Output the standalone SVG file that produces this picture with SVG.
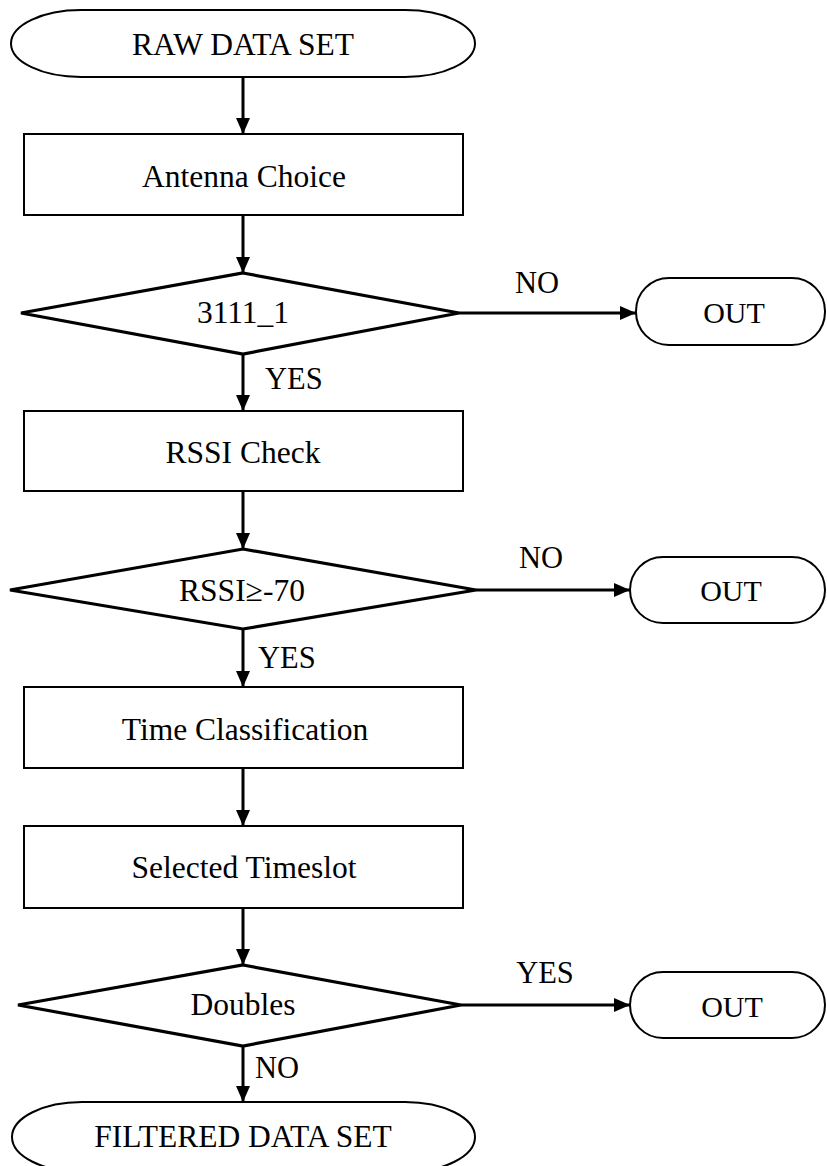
<svg xmlns="http://www.w3.org/2000/svg" width="827" height="1166" viewBox="0 0 827 1166">
  <defs>
    <marker id="arrow" markerUnits="userSpaceOnUse" markerWidth="16" markerHeight="16" viewBox="0 0 16 16" refX="16" refY="8" orient="auto">
      <path d="M0,1 L16,8 L0,15 Z" fill="#000"/>
    </marker>
    <style>
      .box { fill: #fff; stroke: #000; stroke-width: 2; }
      .dia { fill: #fff; stroke: #000; stroke-width: 3.2; stroke-linejoin: miter; }
      .t { font-family: "Liberation Serif", "Times New Roman", serif; font-size: 31.5px; fill: #000; text-anchor: middle; }
      .o { font-family: "Liberation Serif", "Times New Roman", serif; font-size: 30px; fill: #000; text-anchor: middle; }
      .lbl { font-family: "Liberation Serif", "Times New Roman", serif; font-size: 30.5px; fill: #000; }
      .edge { stroke: #000; stroke-width: 3; fill: none; marker-end: url(#arrow); }
    </style>
  </defs>
  <rect width="827" height="1166" fill="#fff"/>

  <g id="connectors">
    <line class="edge" x1="243" y1="77" x2="243" y2="134"/>
    <line class="edge" x1="243" y1="215" x2="243" y2="273"/>
    <line class="edge" x1="459" y1="313" x2="636" y2="313"/>
    <line class="edge" x1="243" y1="354" x2="243" y2="411"/>
    <line class="edge" x1="243" y1="491" x2="243" y2="549"/>
    <line class="edge" x1="476" y1="590" x2="630" y2="590"/>
    <line class="edge" x1="243" y1="629" x2="243" y2="687"/>
    <line class="edge" x1="243" y1="768" x2="243" y2="826"/>
    <line class="edge" x1="243" y1="908" x2="243" y2="965"/>
    <line class="edge" x1="461" y1="1005" x2="630" y2="1005"/>
    <line class="edge" x1="243" y1="1046" x2="243" y2="1102"/>
    <text class="lbl" x="537" y="293" text-anchor="middle">NO</text>
    <text class="lbl" x="265" y="389">YES</text>
    <text class="lbl" x="541" y="568" text-anchor="middle">NO</text>
    <text class="lbl" x="258" y="668">YES</text>
    <text class="lbl" x="545" y="983" text-anchor="middle">YES</text>
    <text class="lbl" x="255" y="1078">NO</text>
  </g>

  <g id="raw">
    <rect class="box" x="11" y="10" width="464" height="67" rx="70" ry="33.5"/>
    <text class="t" x="243" y="55">RAW DATA SET</text>
  </g>
  <g id="antenna">
    <rect class="box" x="24" y="134" width="439" height="81"/>
    <text class="t" x="244" y="187">Antenna Choice</text>
  </g>
  <g id="d3111">
    <polygon class="dia" points="243,273 459,313 243,354 21,313"/>
    <text class="t" x="243" y="323">3111_1</text>
  </g>
  <g id="out1">
    <rect class="box" x="636" y="278" width="189" height="67" rx="33" ry="33"/>
    <text class="o" x="734" y="323">OUT</text>
  </g>
  <g id="rssicheck">
    <rect class="box" x="24" y="411" width="439" height="80"/>
    <text class="t" x="243" y="463">RSSI Check</text>
  </g>
  <g id="drssi">
    <polygon class="dia" points="243,549 476,590 243,629 10,590"/>
    <text class="t" x="242" y="601">RSSI≥-70</text>
  </g>
  <g id="out2">
    <rect class="box" x="630" y="557" width="195" height="66" rx="33" ry="33"/>
    <text class="o" x="731" y="601">OUT</text>
  </g>
  <g id="timeclass">
    <rect class="box" x="24" y="687" width="439" height="81"/>
    <text class="t" x="245" y="740">Time Classification</text>
  </g>
  <g id="timeslot">
    <rect class="box" x="24" y="826" width="439" height="82"/>
    <text class="t" x="244" y="878">Selected Timeslot</text>
  </g>
  <g id="ddoubles">
    <polygon class="dia" points="243,965 461,1005 243,1046 18,1005"/>
    <text class="t" x="243" y="1015">Doubles</text>
  </g>
  <g id="out3">
    <rect class="box" x="630" y="972" width="195" height="66" rx="33" ry="33"/>
    <text class="o" x="732" y="1017">OUT</text>
  </g>
  <g id="filtered">
    <rect class="box" x="12" y="1102" width="463" height="70" rx="70" ry="35"/>
    <text class="t" x="243" y="1147">FILTERED DATA SET</text>
  </g>
</svg>
